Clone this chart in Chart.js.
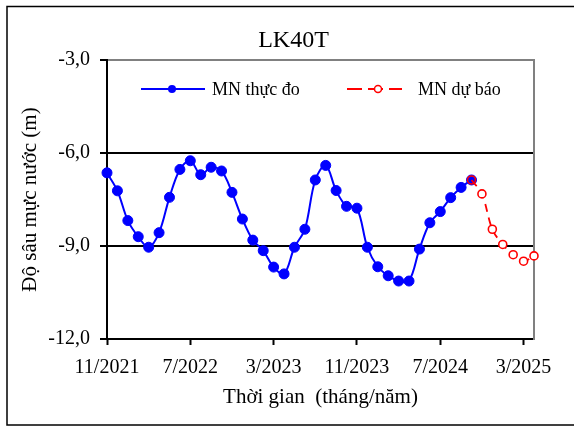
<!DOCTYPE html>
<html><head><meta charset="utf-8">
<script src="https://cdn.jsdelivr.net/npm/chart.js@4"></script>
<style>html,body{margin:0;padding:0;background:#fff}#wrap{width:574px;height:428px;position:relative}</style>
</head><body><div id="wrap"><canvas id="c" width="574" height="428"></canvas></div>
<script>
const chartTitle = 'LK40T';
const seriesNames = ['MN thực đo', 'MN dự báo'];
const yAxisTitle = 'Độ sâu mực nước (m)';
const xAxisTitle = 'Thời gian  (tháng/năm)';
const xTickLabels = ['11/2021', '7/2022', '3/2023', '11/2023', '7/2024', '3/2025'];
const xTickMonthIndex = [0, 8, 16, 24, 32, 40];
const yTickValues = [-12, -9, -6, -3];
const yTickLabels = ['-12,0', '-9,0', '-6,0', '-3,0'];
// monthly values, month index 0 = 11/2021
const measuredStart = 0;
const measured = [-6.64, -7.22, -8.18, -8.70, -9.04, -8.57, -7.43, -6.53, -6.25, -6.70,
  -6.46, -6.58, -7.27, -8.13, -8.81, -9.15, -9.68, -9.90, -9.04, -8.46,
  -6.87, -6.40, -7.21, -7.72, -7.78, -9.04, -9.67, -9.96, -10.13, -10.13,
  -9.10, -8.25, -7.89, -7.44, -7.11, -6.87];
const forecastStart = 35;
const forecast = [-6.87, -7.32, -8.46, -8.95, -9.28, -9.49, -9.32];
const xMin = 0, xMax = 41;

const FONT = "'Liberation Serif', 'Times New Roman', serif";
Chart.defaults.font.family = FONT;
Chart.defaults.color = '#000';

const blue = '#0000FF', red = '#FF0000';

const decor = {
  id: 'decor',
  beforeDraw(chart) {
    const ctx = chart.ctx;
    ctx.save();
    ctx.fillStyle = '#fff';
    ctx.fillRect(0, 0, chart.width, chart.height);
    ctx.strokeStyle = '#000';
    ctx.lineWidth = 1.5;
    ctx.strokeRect(7, 6.5, 600, 418.5);
    ctx.restore();
  },
  afterDraw(chart) {
    const ctx = chart.ctx, a = chart.chartArea;
    const ds = chart.data.datasets;
    const y = a.top + 29;
    ctx.save();
    ctx.font = '18px ' + FONT;
    ctx.textBaseline = 'middle';
    ctx.fillStyle = '#000';
    // measured
    ctx.strokeStyle = ds[0].borderColor; ctx.lineWidth = 2;
    ctx.beginPath(); ctx.moveTo(a.left + 34, y); ctx.lineTo(a.left + 98, y); ctx.stroke();
    ctx.fillStyle = ds[0].borderColor;
    ctx.beginPath(); ctx.arc(a.left + 65, y, 4, 0, Math.PI * 2); ctx.fill();
    ctx.fillStyle = '#000';
    ctx.fillText(ds[0].label, a.left + 105, y + 1);
    // forecast
    ctx.strokeStyle = ds[1].borderColor; ctx.lineWidth = 2;
    ctx.setLineDash([15, 6]);
    ctx.beginPath(); ctx.moveTo(a.left + 240, y); ctx.lineTo(a.left + 295, y); ctx.stroke();
    ctx.setLineDash([]);
    ctx.fillStyle = '#fff'; ctx.lineWidth = 1.5;
    ctx.beginPath(); ctx.arc(a.left + 271, y, 3.5, 0, Math.PI * 2); ctx.fill(); ctx.stroke();
    ctx.fillStyle = '#000';
    ctx.fillText(ds[1].label, a.left + 311, y + 1);
    ctx.restore();
  }
};

new Chart(document.getElementById('c'), {
  type: 'line',
  data: {
    datasets: [
      {
        label: seriesNames[0],
        data: measured.map((v, i) => ({ x: measuredStart + i, y: v })),
        borderColor: blue, backgroundColor: blue, borderWidth: 2,
        pointRadius: 5, pointBackgroundColor: blue, pointBorderColor: blue, pointBorderWidth: 1,
        tension: 0.35, order: 2, clip: false
      },
      {
        label: seriesNames[1],
        data: forecast.map((v, i) => ({ x: forecastStart + i, y: v })),
        borderColor: red, backgroundColor: '#fff', borderWidth: 1.8, borderDash: [8, 6],
        pointRadius: 4,
        pointBackgroundColor: (c) => c.dataIndex === 0 ? 'rgba(0,0,0,0)' : '#fff',
        pointBorderColor: red, pointBorderWidth: 1.6,
        tension: 0.35, order: 1, clip: false
      }
    ]
  },
  options: {
    responsive: false, animation: false, devicePixelRatio: 1,
    layout: { padding: { left: 13, right: 0, top: 0, bottom: 0 } },
    plugins: {
      legend: { display: false },
      tooltip: { enabled: false },
      title: { display: true, text: chartTitle, color: '#000', font: { size: 24, weight: 'normal' }, padding: { top: 26.6, bottom: 4.6 } }
    },
    scales: {
      x: {
        type: 'linear', min: xMin, max: xMax,
        afterFit(s) { s.height = 89; },
        afterBuildTicks(s) { s.ticks = xTickMonthIndex.map(v => ({ value: v })); },
        ticks: {
          autoSkip: false, maxRotation: 0, color: '#000', font: { size: 20 }, padding: 11,
          callback: (v) => { const i = xTickMonthIndex.indexOf(v); return i >= 0 ? xTickLabels[i] : ''; }
        },
        grid: { display: true, drawOnChartArea: false, drawTicks: true, tickLength: 6, tickColor: '#000', tickWidth: 2 },
        border: { display: true, color: '#000', width: 2 },
        title: { display: true, text: xAxisTitle, color: '#000', font: { size: 21 }, padding: { top: 0, bottom: 18.4 } }
      },
      y: {
        type: 'linear', min: -12, max: -3, position: 'left',
        afterFit(s) { s.width = 94; },
        afterBuildTicks(s) { s.ticks = yTickValues.map(v => ({ value: v })); },
        ticks: {
          color: '#000', font: { size: 20 }, padding: 10,
          callback: (v) => { const i = yTickValues.indexOf(v); return i >= 0 ? yTickLabels[i] : ''; }
        },
        grid: {
          color: (c) => (c.tick && c.tick.value === -3) ? '#808080' : '#000',
          lineWidth: 2, tickLength: 7, tickColor: '#000', tickWidth: 2
        },
        border: { display: true, color: '#000', width: 2 },
        title: { display: true, text: yAxisTitle, color: '#000', font: { size: 21 }, padding: { top: 5, bottom: 0 } }
      },
      yR: {
        type: 'linear', position: 'right', display: true,
        afterFit(s) { s.width = 40; },
        ticks: { display: false },
        grid: { display: false, drawTicks: false },
        border: { display: true, color: '#808080', width: 2 }
      }
    }
  },
  plugins: [decor]
});
</script></body></html>
